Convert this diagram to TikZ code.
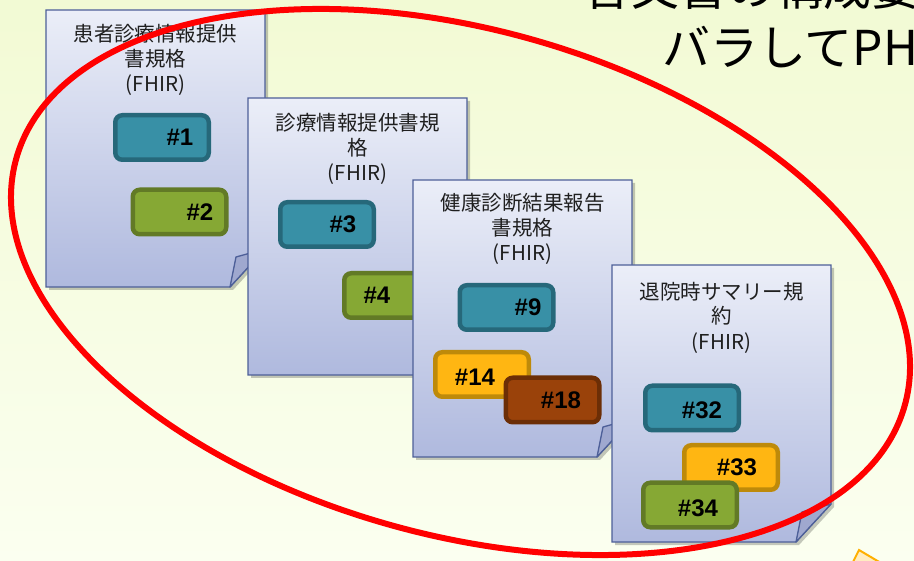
\documentclass[tikz,border=0pt]{standalone}
\usepackage{fontspec}
\setmainfont{Liberation Sans}
\newfontfamily\jp{Noto Sans CJK JP}
\usetikzlibrary{shadows}
\definecolor{bgtop}{HTML}{F2FAD4}
\definecolor{bgbot}{HTML}{FBFFF0}
\definecolor{doctop}{HTML}{EBEEF8}
\definecolor{docbot}{HTML}{AFB9DE}
\definecolor{docline}{HTML}{4D5F98}
\definecolor{flapc}{HTML}{9FA8CF}
\definecolor{tealF}{HTML}{3890A6}
\definecolor{tealD}{HTML}{26687A}
\definecolor{grnF}{HTML}{86A834}
\definecolor{grnD}{HTML}{627A26}
\definecolor{orgF}{HTML}{FFB612}
\definecolor{orgD}{HTML}{BE8A0A}
\definecolor{brnF}{HTML}{9A420A}
\definecolor{brnD}{HTML}{6C2E06}
\definecolor{arrF}{HTML}{FFEDC0}
\definecolor{arrD}{HTML}{FFB000}
\newcommand\docpaper[2]{%
  \draw[docbody] (#1,#2) -- ++(219,0) -- ++(0,239) -- ++(-35,38) -- ++(-184,0) -- cycle;
  \draw[docflap] (#1+184,#2+277) -- (#1+190,#2+247) -- (#1+219,#2+239) -- cycle;
}
\begin{document}
\begin{tikzpicture}[x=1pt,y=-1pt,
  docbody/.style={draw=docline, line width=1.3pt, top color=doctop, bottom color=docbot,
    drop shadow={shadow xshift=3pt, shadow yshift=-3pt, opacity=0.22, fill=black}},
  docflap/.style={draw=docline, line width=1.3pt, fill=flapc, line join=round},
  dtitle/.style={font=\jp\fontsize{20.5}{25}\selectfont, inner sep=0pt, text=black!88, anchor=base},
  badge/.style 2 args={draw=#2, fill=#1, line width=4.5pt, rounded corners=7pt,
    minimum width=93.5pt, minimum height=44.5pt, inner sep=0pt},
  btext/.style={font=\bfseries\fontsize{24}{24}\selectfont, inner sep=0pt, text=black},
  bigtitle/.style={font=\jp\fontsize{48}{48}\selectfont, inner sep=0pt, anchor=base west, text=black}]
\useasboundingbox (0,0) rectangle (914,561);
\fill[top color=bgtop, bottom color=bgbot] (0,0) rectangle (914,561);
\clip (0,0) rectangle (914,561);

% title (cut off)
\node[bigtitle] (tl1) at (583,6) {各文書の構成要};
\node[bigtitle] (tl2) at (662,66) {バラしてPH};

% document 1
\docpaper{46}{10}
\node[dtitle] (d1a) at (155.5,42) {患者診療情報提供};
\node[dtitle] (d1b) at (155.5,67) {書規格};
\node[dtitle] (d1c) at (155.5,92) {(FHIR)};
\node[badge={tealF}{tealD}] (b1) at (162,137.5) {};
\node[btext] (t1) at (180,137.5) {\#1};
\node[badge={grnF}{grnD}] (b2) at (179.5,212) {};
\node[btext] (t2) at (200,212) {\#2};

% document 2
\docpaper{248}{98}
\node[dtitle] (d2a) at (357.5,131) {診療情報提供書規};
\node[dtitle] (d2b) at (357.5,156) {格};
\node[dtitle] (d2c) at (357.5,181) {(FHIR)};
\node[badge={tealF}{tealD}] (b3) at (327,224.5) {};
\node[btext] (t3) at (343,224.5) {\#3};
\node[badge={grnF}{grnD}] (b4) at (391,295.5) {};
\node[btext] (t4) at (377,295.5) {\#4};

% document 3
\docpaper{413}{180}
\node[dtitle] (d3a) at (522.5,211) {健康診断結果報告};
\node[dtitle] (d3b) at (522.5,236) {書規格};
\node[dtitle] (d3c) at (522.5,261) {(FHIR)};
\node[badge={tealF}{tealD}] (b9) at (506.5,307.5) {};
\node[btext] (t9) at (528,307.5) {\#9};
\node[badge={orgF}{orgD}] (b14) at (482,374.5) {};
\node[btext] (t14) at (475,377) {\#14};
\node[badge={brnF}{brnD}] (b18) at (552.5,400) {};
\node[btext] (t18) at (561,400) {\#18};

% document 4
\docpaper{612}{265}
\node[dtitle] (d4a) at (721.5,300) {退院時サマリー規};
\node[dtitle] (d4b) at (721.5,324) {約};
\node[dtitle] (d4c) at (721.5,350) {(FHIR)};
\node[badge={tealF}{tealD}] (b32) at (692,408) {};
\node[btext] (t32) at (702,410) {\#32};
\node[badge={orgF}{orgD}] (b33) at (731,467.5) {};
\node[btext] (t33) at (737,467.5) {\#33};
\node[badge={grnF}{grnD}] (b34) at (690,505) {};
\node[btext] (t34) at (698,508) {\#34};

% partial shape at bottom right
\draw[draw=arrD, fill=arrF, line width=2pt, line join=miter] (851,566) -- (859,550) -- (886,566);

% red ellipse
\draw[red, line width=6pt, rotate around={-15.47:(460.5,282)}] (460.5,282) ellipse [x radius=461.1, y radius=252.9];
\end{tikzpicture}
\end{document}
